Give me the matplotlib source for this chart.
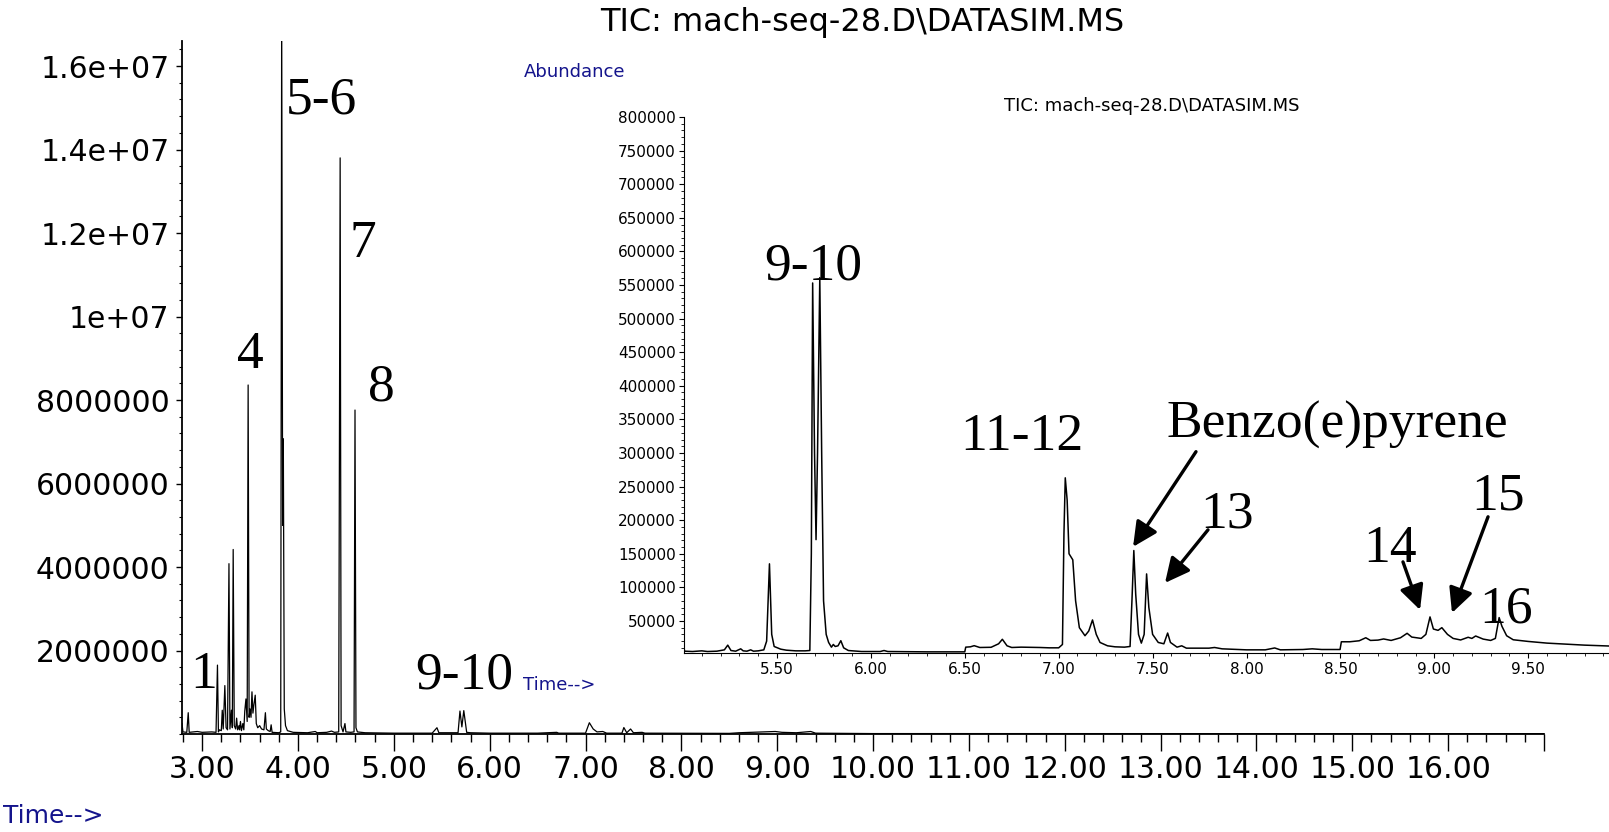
import numpy as np
import matplotlib.pyplot as plt
from matplotlib.ticker import FixedLocator, MultipleLocator

# Full run, TIC (abundance in millions)
main_time = [
    2.79, 2.80, 2.84, 2.855, 2.865, 2.95, 3.00, 3.10, 3.145, 3.16, 3.17, 3.18,
    3.20, 3.21, 3.22, 3.237, 3.25, 3.265, 3.28, 3.29, 3.306, 3.315, 3.324,
    3.335, 3.35, 3.36, 3.37, 3.385, 3.39, 3.40, 3.41, 3.425, 3.435, 3.445,
    3.457, 3.47, 3.48, 3.49, 3.50, 3.51, 3.52, 3.53, 3.54, 3.554, 3.565,
    3.58, 3.60, 3.62, 3.645, 3.66, 3.67, 3.69, 3.71, 3.72, 3.73, 3.80, 3.82,
    3.83, 3.84, 3.847, 3.857, 3.87, 3.89, 3.95, 4.10, 4.18, 4.20, 4.30, 4.35,
    4.38, 4.425, 4.44, 4.45, 4.47, 4.49, 4.50, 4.55, 4.585, 4.595, 4.605,
    4.62, 4.70, 5.00, 5.40, 5.45, 5.47, 5.67, 5.69, 5.71, 5.73, 5.76, 5.80,
    6.00, 6.50, 6.70, 6.72, 7.00, 7.04, 7.08, 7.12, 7.18, 7.22, 7.38, 7.40,
    7.43, 7.47, 7.50, 7.59, 7.62, 8.50, 8.60, 8.98, 9.05, 9.20, 9.35, 9.40,
    10.0, 17.0,
]
main_abund = [
    0.25, 0.05, 0.04, 0.51, 0.04, 0.06, 0.04, 0.05, 0.04, 1.65, 0.05, 0.10,
    0.08, 0.57, 0.12, 1.16, 0.15, 0.10, 4.08, 0.12, 0.57, 0.15, 4.42,
    0.20, 0.12, 0.38, 0.10, 0.20, 0.10, 0.30, 0.08, 0.25, 0.10, 0.55,
    0.84, 0.30, 8.36, 0.40, 0.60, 0.40, 1.01, 0.50, 0.70, 0.93, 0.25,
    0.15, 0.20, 0.12, 0.10, 0.51, 0.12, 0.08, 0.06, 0.22, 0.04, 0.03, 0.05,
    17.5, 5.0, 7.07, 0.60, 0.20, 0.08, 0.04, 0.03, 0.06, 0.03, 0.04, 0.07,
    0.04, 0.05, 13.8, 0.20, 0.05, 0.25, 0.05, 0.04, 0.05, 7.76, 0.15,
    0.05, 0.03, 0.02, 0.02, 0.15, 0.03, 0.03, 0.55, 0.17, 0.56, 0.04, 0.03,
    0.02, 0.02, 0.04, 0.02, 0.02, 0.27, 0.12, 0.05, 0.06, 0.02, 0.02, 0.155,
    0.03, 0.12, 0.03, 0.04, 0.02, 0.015, 0.03, 0.06, 0.04, 0.03, 0.06, 0.02,
    0.01, 0.008,
]

# Zoomed window 5.0-9.93 min (abundance in thousands)
inset_time = [
    5.000, 5.008, 5.05, 5.10, 5.13, 5.18, 5.22, 5.238, 5.255, 5.28, 5.307,
    5.32, 5.34, 5.36, 5.375, 5.40, 5.43, 5.445, 5.46, 5.472, 5.485, 5.52,
    5.55, 5.60, 5.65, 5.675, 5.683, 5.690, 5.700, 5.708, 5.716, 5.728, 5.738,
    5.748, 5.762, 5.775, 5.79, 5.80, 5.81, 5.825, 5.84, 5.855, 5.88, 5.95,
    6.05, 6.07, 6.09, 6.30, 6.50, 6.505, 6.53, 6.55, 6.58, 6.64, 6.68, 6.70,
    6.725, 6.75, 6.80, 6.90, 6.95, 7.00, 7.02, 7.028, 7.035, 7.045, 7.055,
    7.075, 7.09, 7.11, 7.14, 7.16, 7.18, 7.20, 7.22, 7.26, 7.30, 7.35, 7.38,
    7.39, 7.40, 7.41, 7.425, 7.44, 7.455, 7.468, 7.48, 7.50, 7.53, 7.56,
    7.58, 7.595, 7.63, 7.655, 7.68, 7.75, 7.80, 7.83, 7.87, 8.00, 8.10, 8.15,
    8.18, 8.30, 8.35, 8.40, 8.498, 8.505, 8.55, 8.60, 8.635, 8.66, 8.70, 8.73,
    8.77, 8.82, 8.855, 8.88, 8.93, 8.955, 8.977, 8.995, 9.02, 9.04, 9.07,
    9.10, 9.14, 9.18, 9.20, 9.22, 9.26, 9.30, 9.325, 9.345, 9.36, 9.385,
    9.42, 9.50, 9.60, 9.70, 9.80, 9.93,
]
inset_abund = [
    19, 5, 4.5, 5.5, 4.5, 5, 7, 14, 6, 5, 8.5,
    5.5, 5, 7, 5, 5.5, 7, 20, 135, 30, 12, 8,
    6.5, 5.5, 5.5, 6, 150, 553, 300, 171, 300, 561, 300,
    80, 30, 18, 11, 15, 12, 13, 20.6, 10, 6, 4.5,
    4.5, 6, 4.5, 4, 4, 11, 11.5, 13.2, 10.5, 10.8, 16, 22.7,
    13, 10.5, 11, 10.5, 10, 10, 15, 180, 263, 230, 150,
    141, 80, 40, 28, 35, 51.5, 30, 18, 13, 11.5, 11, 12,
    80, 154.8, 90, 30, 17, 30, 120, 70, 30, 18, 16,
    32, 18, 11, 13, 9.5, 9.5, 9.5, 10.5, 8.5, 7, 7, 9.8,
    7, 7.5, 8.5, 7.5, 7.5, 19, 19, 20.5, 25, 21, 21.5, 23.2,
    21, 25, 31.6, 26, 24, 30, 56, 38, 36, 40, 30,
    24, 21.7, 25.7, 24, 27.6, 23, 21, 24, 55, 42, 28,
    22, 19.5, 17, 15.5, 14, 12.7,
]

main_xticks = list(range(3, 18))
main_xlabels = ['3.00', '4.00', '5.00', '6.00', '7.00', '8.00', '9.00',
                '10.00', '11.00', '12.00', '13.00', '14.00', '15.00',
                '16.00', '']
main_yticks = [2e6, 4e6, 6e6, 8e6, 1e7, 1.2e7, 1.4e7, 1.6e7]
main_ylabels = ['2000000', '4000000', '6000000', '8000000', '1e+07',
                '1.2e+07', '1.4e+07', '1.6e+07']
inset_xticks = [5.5, 6.0, 6.5, 7.0, 7.5, 8.0, 8.5, 9.0, 9.5]
inset_xlabels = ['5.50', '6.00', '6.50', '7.00', '7.50', '8.00', '8.50',
                 '9.00', '9.50']
inset_yticks = list(range(50000, 800001, 50000))

title = 'TIC: mach-seq-28.D\\DATASIM.MS'
navy = '#14148c'
serif = ['Liberation Serif', 'DejaVu Serif']

plt.rcParams['font.family'] = ['DejaVu Sans']

W, H = 1609, 832
fig = plt.figure(figsize=(W / 100, H / 100), dpi=100)


def box(left, top, right, bottom):
    # pixel edges -> figure fraction rectangle
    return [left / W, 1 - bottom / H, (right - left) / W, (bottom - top) / H]


# ---- main chromatogram ----
ax = fig.add_axes(box(182, 41, 1544, 734))
ax.plot(main_time, np.array(main_abund) * 1e6, color='black', lw=0.9)
ax.set_xlim(2.79, 17.0)
ax.set_ylim(0, 1.66e7)
for s in ('top', 'right'):
    ax.spines[s].set_visible(False)
for s in ('left', 'bottom'):
    ax.spines[s].set_linewidth(1.3)
ax.xaxis.set_major_locator(FixedLocator(main_xticks))
ax.set_xticklabels(main_xlabels)
ax.xaxis.set_minor_locator(MultipleLocator(0.2))
ax.yaxis.set_major_locator(FixedLocator(main_yticks))
ax.set_yticklabels(main_ylabels)
ax.yaxis.set_minor_locator(MultipleLocator(4e5))
ax.tick_params(axis='x', which='major', direction='out', length=12, width=1,
               labelsize=21.5, pad=3)
ax.tick_params(axis='x', which='minor', direction='out', length=6, width=1)
ax.tick_params(axis='y', which='major', direction='out', length=4, width=1,
               labelsize=21.5, pad=5)
ax.tick_params(axis='y', which='minor', direction='out', length=2.5, width=0.8)

for label, xy in [('1', (3.016, 1.10e6)), ('4', (3.507, 8.77e6)),
                  ('5-6', (4.243, 14.87e6)), ('7', (4.677, 11.43e6)),
                  ('8', (4.865, 8.0e6)), ('9-10', (5.738, 1.10e6))]:
    ax.text(*xy, label, family=serif, fontsize=38.5, ha='center',
            va='baseline')

# ---- zoomed window ----
ins = fig.add_axes(box(684, 117, 1609, 653.2))
ins.set_facecolor('none')
ins.plot(inset_time, np.array(inset_abund) * 1e3, color='black', lw=1.1)
ins.set_xlim(5.005, 9.93)
ins.set_ylim(2000, 800000)
for s in ('top', 'right'):
    ins.spines[s].set_visible(False)
ins.xaxis.set_major_locator(FixedLocator(inset_xticks))
ins.set_xticklabels(inset_xlabels)
ins.xaxis.set_minor_locator(MultipleLocator(0.1))
ins.yaxis.set_major_locator(FixedLocator(inset_yticks))
ins.set_yticklabels([str(v) for v in inset_yticks])
ins.yaxis.set_minor_locator(MultipleLocator(10000))
ins.tick_params(which='major', direction='out', length=3.5, width=0.8,
                labelsize=11, pad=2.5)
ins.tick_params(which='minor', direction='out', length=2, width=0.6)

for label, xy in [('9-10', (5.692, 558200)), ('11-12', (6.805, 304800)),
                  ('Benzo(e)pyrene', (8.482, 322700)), ('13', (7.896, 188600)),
                  ('14', (8.764, 137900)), ('15', (9.339, 215400)),
                  ('16', (9.382, 47000))]:
    ins.text(*xy, label, family=serif, fontsize=38.5, ha='center',
             va='baseline')

arrow = dict(arrowstyle='-|>,head_length=0.65,head_width=0.32', color='black',
             lw=2.4, mutation_scale=23, shrinkA=0, shrinkB=0)
for tail, head in [((7.731, 301900), (7.396, 160300)),
                   ((7.795, 185600), (7.566, 106600)),
                   ((8.833, 137900), (8.924, 66400)),
                   ((9.286, 205000), (9.094, 61900))]:
    ins.annotate('', xy=head, xytext=tail, arrowprops=arrow)

# ---- captions ----
fig.text(862 / W, 1 - 23 / H, title, fontsize=23, ha='center', va='center')
fig.text(1152 / W, 1 - 106 / H, title, fontsize=13, ha='center',
         va='center')
fig.text(524 / W, 1 - 72 / H, 'Abundance', fontsize=13, color=navy,
         ha='left', va='center')
fig.text(523 / W, 1 - 685 / H, 'Time-->', fontsize=13, color=navy,
         ha='left', va='center')
fig.text(3 / W, 1 - 816 / H, 'Time-->', fontsize=18, color=navy,
         ha='left', va='center')

fig.savefig('out.png', dpi=100)
